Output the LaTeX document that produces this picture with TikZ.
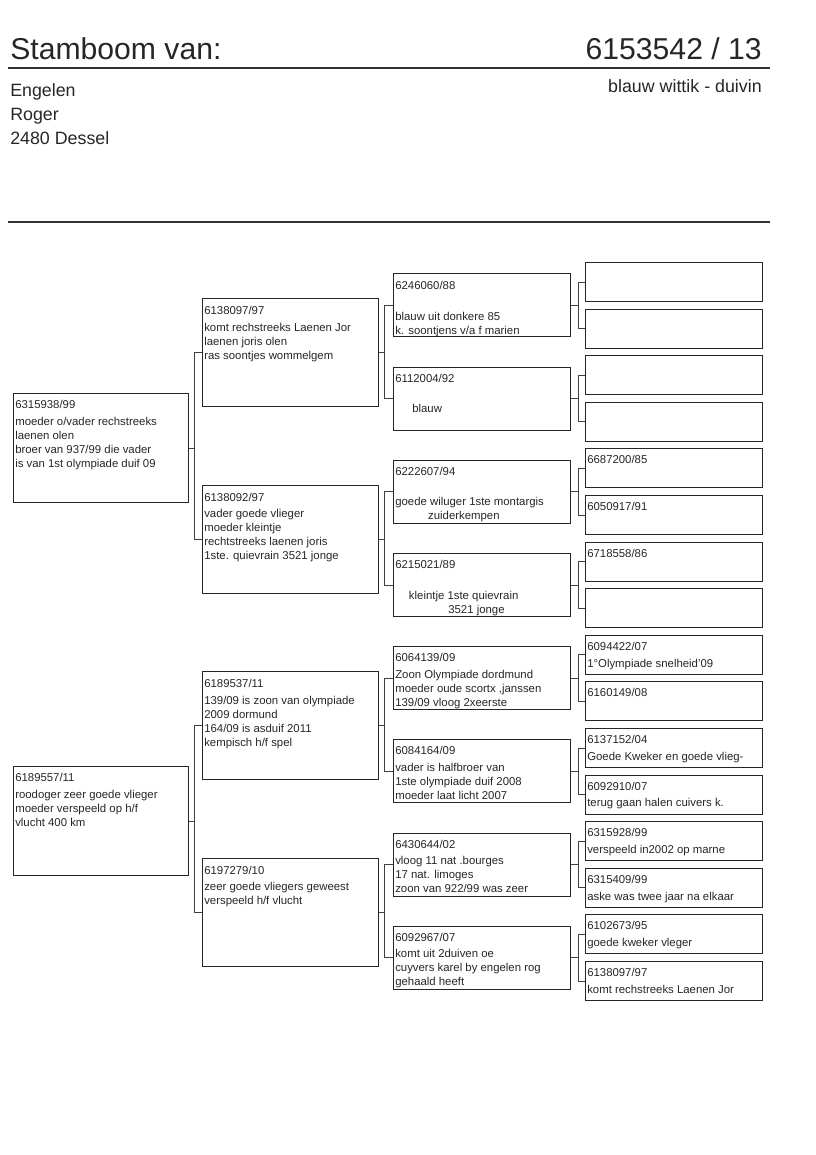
\documentclass[tikz,border=0pt]{standalone}
\usepackage{fontspec}
\setmainfont{Liberation Sans}
\usetikzlibrary{calc}
\def\px{0.7295pt}
\begin{document}
\begin{tikzpicture}[x=\px,y=-\px,
  box/.style={draw=black!85,line width=0.75pt,inner sep=0pt,anchor=north west},
  abox/.style={box,minimum width=175*\px,minimum height=109*\px},
  bbox/.style={box,minimum width=176*\px,minimum height=108*\px},
  cbox/.style={box,minimum width=177*\px,minimum height=63*\px},
  dbox/.style={box,minimum width=177*\px,minimum height=39*\px},
  conn/.style={draw=black!75,line width=0.6pt},
  txt/.style={anchor=north west,inner sep=0pt,align=left,text=black!85,font=\fontsize{8.3}{10.2}\selectfont},
  head/.style={inner sep=0pt,text=black!85},
  rule/.style={draw=black!80,line width=1pt}]
\useasboundingbox (0,0) rectangle (816,1155);
% header
\node[head,anchor=base west,font=\fontsize{22}{26}\selectfont] (title) at (10,60) {Stamboom van:};
\node[head,anchor=base east,font=\fontsize{22}{26}\selectfont] (ring) at (762,60) {6153542 / 13};
\draw[rule] (8,68) -- (770,68);
\node[head,anchor=base west,font=\fontsize{13}{17}\selectfont] (own1) at (10,97) {Engelen};
\node[head,anchor=base west,font=\fontsize{13}{17}\selectfont] (own2) at (10,121) {Roger};
\node[head,anchor=base west,font=\fontsize{13}{17}\selectfont] (own3) at (10,145) {2480 Dessel};
\node[head,anchor=base east,font=\fontsize{13}{17}\selectfont] (kleur) at (762,93) {blauw wittik - duivin};
\draw[rule] (8,222) -- (770,222);
% boxes
\node[abox] (a1) at (13,393) {};
\node[abox] (a2) at (13,766) {};
\foreach \i in {1,...,4}{\node[bbox] (b\i) at (202,{298+186.5*(\i-1)}) {};}
\foreach \j in {1,...,8}{\node[cbox] (c\j) at (393,{273.3+93.2*(\j-1)}) {};}
\foreach \k in {1,...,16}{\node[dbox] (d\k) at (585,{262+46.6*(\k-1)}) {};}
% connectors
\foreach \j in {1,...,8}{
  \pgfmathtruncatemacro{\p}{2*\j-1}
  \pgfmathtruncatemacro{\q}{2*\j}
  \draw[conn] (d\p.west) -- ++(-7,0) coordinate (jd\j) |- (d\q.west);
  \draw[conn] (c\j.east) -- (c\j.east -| jd\j);
}
\foreach \i in {1,...,4}{
  \pgfmathtruncatemacro{\p}{2*\i-1}
  \pgfmathtruncatemacro{\q}{2*\i}
  \draw[conn] (c\p.west) -- ++(-9,0) coordinate (jc\i) |- (c\q.west);
  \draw[conn] (b\i.east) -- (b\i.east -| jc\i);
}
\foreach \m in {1,2}{
  \pgfmathtruncatemacro{\p}{2*\m-1}
  \pgfmathtruncatemacro{\q}{2*\m}
  \draw[conn] (b\p.west) -- ++(-8,0) coordinate (jb\m) |- (b\q.west);
  \draw[conn] (a\m.east) -- (a\m.east -| jb\m);
}
% texts column A
\node[txt] (a1t) at ([shift={(2,7)}]a1.north west) {6315938/99\\[2pt]moeder o/vader rechstreeks\\laenen olen\\broer van 937/99 die vader\\is van 1st olympiade duif 09};
\node[txt] (a2t) at ([shift={(2,7)}]a2.north west) {6189557/11\\[2pt]roodoger zeer goede vlieger\\moeder verspeeld op h/f\\vlucht 400 km};
% column B
\node[txt] (b1t) at ([shift={(2,8)}]b1.north west) {6138097/97\\[2pt]komt rechstreeks Laenen Jor\\laenen joris olen\\ras soontjes wommelgem};
\node[txt] (b2t) at ([shift={(2,8)}]b2.north west) {6138092/97\\[2pt]vader goede vlieger\\moeder kleintje\\rechtstreeks laenen joris\\1ste. quievrain 3521 jonge};
\node[txt] (b3t) at ([shift={(2,8)}]b3.north west) {6189537/11\\[2pt]139/09 is zoon van olympiade\\2009 dormund\\164/09 is asduif 2011\\kempisch h/f spel};
\node[txt] (b4t) at ([shift={(2,8)}]b4.north west) {6197279/10\\[2pt]zeer goede vliegers geweest\\verspeeld h/f vlucht};
% column C
\node[txt] (c1t) at ([shift={(2,8)}]c1.north west) {6246060/88\\[2pt]\mbox{}\\blauw uit donkere 85\\k. soontjens v/a f marien};
\node[txt] (c2t) at ([shift={(2,7)}]c2.north west) {6112004/92\\[2pt]\mbox{}\\\hspace*{12.4pt}blauw};
\node[txt] (c3t) at ([shift={(2,7)}]c3.north west) {6222607/94\\[2pt]\mbox{}\\goede wiluger 1ste montargis\\\hspace*{24pt}zuiderkempen};
\node[txt] (c4t) at ([shift={(2,7)}]c4.north west) {6215021/89\\[2pt]\mbox{}\\\hspace*{10pt}kleintje 1ste quievrain\\\hspace*{38.7pt}3521 jonge};
\node[txt] (c5t) at ([shift={(2,7)}]c5.north west) {6064139/09\\[2pt]Zoon Olympiade dordmund\\moeder oude scortx ,janssen\\139/09 vloog 2xeerste};
\node[txt] (c6t) at ([shift={(2,7)}]c6.north west) {6084164/09\\[2pt]vader is halfbroer van\\1ste olympiade duif 2008\\moeder laat licht 2007};
\node[txt] (c7t) at ([shift={(2,7)}]c7.north west) {6430644/02\\[2pt]vloog 11 nat .bourges\\17 nat. limoges\\zoon van 922/99 was zeer};
\node[txt] (c8t) at ([shift={(2,7)}]c8.north west) {6092967/07\\[2pt]komt uit 2duiven oe\\cuyvers karel by engelen rog\\gehaald heeft};
% column D
\node[txt] (d5t) at ([shift={(2,7)}]d5.north west) {6687200/85};
\node[txt] (d6t) at ([shift={(2,7)}]d6.north west) {6050917/91};
\node[txt] (d7t) at ([shift={(2,7)}]d7.north west) {6718558/86};
\node[txt] (d9t) at ([shift={(2,7)}]d9.north west) {6094422/07\\[2pt]1°Olympiade snelheid'09};
\node[txt] (d10t) at ([shift={(2,7)}]d10.north west) {6160149/08};
\node[txt] (d11t) at ([shift={(2,7)}]d11.north west) {6137152/04\\[2pt]Goede Kweker en goede vlieg-};
\node[txt] (d12t) at ([shift={(2,7)}]d12.north west) {6092910/07\\[2pt]terug gaan halen cuivers k.};
\node[txt] (d13t) at ([shift={(2,7)}]d13.north west) {6315928/99\\[2pt]verspeeld in2002 op marne};
\node[txt] (d14t) at ([shift={(2,7)}]d14.north west) {6315409/99\\[2pt]aske was twee jaar na elkaar};
\node[txt] (d15t) at ([shift={(2,7)}]d15.north west) {6102673/95\\[2pt]goede kweker vleger};
\node[txt] (d16t) at ([shift={(2,7)}]d16.north west) {6138097/97\\[2pt]komt rechstreeks Laenen Jor};
\end{tikzpicture}
\end{document}
